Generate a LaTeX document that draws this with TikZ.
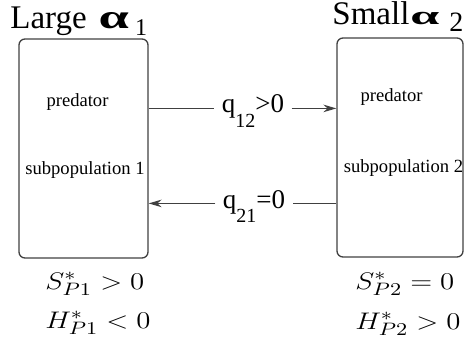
\documentclass[tikz,border=0pt]{standalone}
\usepackage[no-math]{fontspec}
\setmainfont{Liberation Serif}
\usetikzlibrary{arrows.meta,positioning}

\begin{document}
\begin{tikzpicture}[
  x=0.5pt, y=-0.5pt,
  pop/.style={rectangle, draw=black!75, line width=0.65pt, rounded corners=3pt, minimum width=64.5pt, minimum height=109.5pt},
  inner/.style={inner sep=0, anchor=base, font=\fontsize{9.3}{11}\selectfont},
  lbl/.style={inner xsep=3.5pt, inner ysep=0, anchor=base, font=\fontsize{13.5}{14}\selectfont},
  eq/.style={inner sep=0, anchor=base west, font=\fontsize{12.5}{14}\selectfont},
  line/.style={draw=black!75, line width=0.6pt},
  arr/.style={line, -{Stealth[length=6.5pt, width=3.8pt]}}
]
  \useasboundingbox (0,0) rectangle (466,353);

  % Titles
  \node[inner sep=0, anchor=base west] (ttl1) at (10,29)
    {\fontsize{16.5}{17}\selectfont Large\hspace{6pt}\scalebox{1.6}[1]{\fontsize{17}{17}\selectfont\textbf{α}}\hspace{3pt}\raisebox{-3.5pt}{\fontsize{12}{12}\selectfont 1}};
  \node[inner sep=0, anchor=base west] (ttl2) at (332,25)
    {\fontsize{16.5}{17}\selectfont Small\hspace{0.5pt}\scalebox{2}[1]{\fontsize{13}{13}\selectfont\textbf{α}}\hspace{5pt}\raisebox{-3.5pt}{\fontsize{14}{14}\selectfont 2}};

  % Subpopulations
  \node[pop] (sub1) at (83.5,148.5) {};
  \node[pop, minimum width=63pt] (sub2) at (400,147.5) {};
  \node[inner] (pred1) at (77.5,107) {predator};
  \node[inner] (subp1) at (85,175) {subpopulation 1};
  \node[inner] (pred2) at (391.5,102) {predator};
  \node[inner] (subp2) at (403.5,173) {subpopulation 2};

  % Migration rates
  \node[lbl] (q12) at (253,113) {q\raisebox{-7pt}{\fontsize{10}{10}\selectfont 12}>0};
  \node[lbl] (q21) at (254,208) {q\raisebox{-7pt}{\fontsize{10}{10}\selectfont 21}=0};

  % Arrows
  \draw[line] (sub1.east |- q12.mid west) -- (q12.mid west);
  \draw[arr] (q12.mid east) -- (sub2.west |- q12.mid east);
  \draw[line] (sub2.west |- q21.mid east) -- (q21.mid east);
  \draw[arr] (q21.mid west) -- (sub1.east |- q21.mid west);

  % Equilibria
  \node[eq] (s1) at (45,289) {\scalebox{1.2}[1]{$S^*_{P1} > 0$}};
  \node[eq] (h1) at (45,328) {\scalebox{1.2}[1]{$H^*_{P1} < 0$}};
  \node[eq] (s2) at (355,289) {\scalebox{1.2}[1]{$S^*_{P2} = 0$}};
  \node[eq] (h2) at (355,329) {\scalebox{1.2}[1]{$H^*_{P2} > 0$}};
\end{tikzpicture}
\end{document}
